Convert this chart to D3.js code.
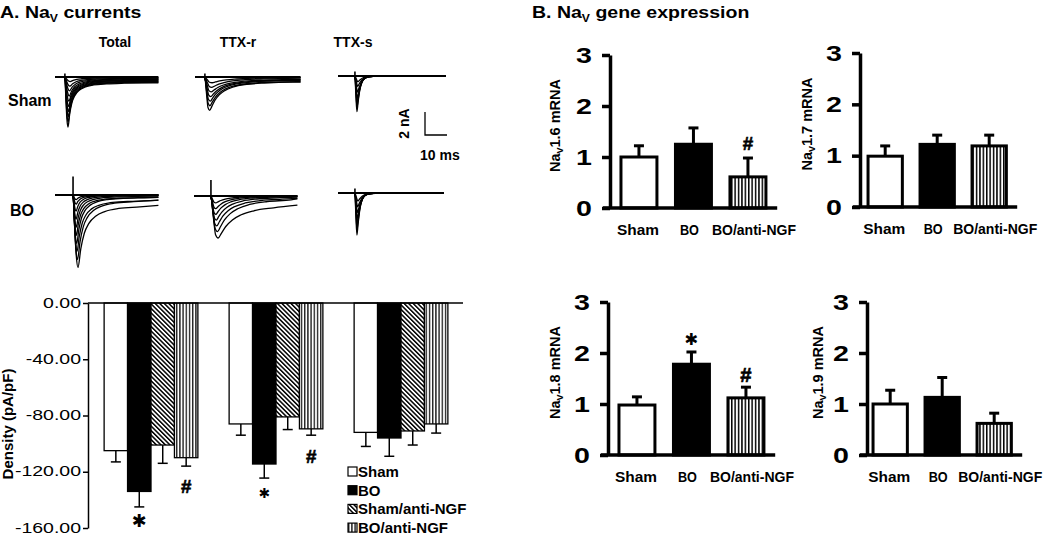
<!DOCTYPE html>
<html><head><meta charset="utf-8">
<script src="https://cdn.jsdelivr.net/npm/d3@7"></script>
<style>
html,body{margin:0;padding:0;background:#fff;}
svg{display:block;font-family:"Liberation Sans",Arial,sans-serif;}
</style></head>
<body>
<svg id="fig" width="1050" height="535"></svg>
<script>
// ---------- DATA ----------
// Panel A traces (nA): peak amplitudes, sustained end levels, slowing factor per sweep
const traceT       = [0, 0.4, 0.9, 1.4, 2.2, 3.2, 4.5, 6.5, 9, 13, 19, 27, 40];
const totalShape   = [0, -0.4, -0.85, -1, -0.7, -0.45, -0.29, -0.17, -0.1, -0.05, -0.025, -0.01, 0];
const ttxrShape    = [0, -0.25, -0.6, -0.9, -1, -0.85, -0.65, -0.45, -0.3, -0.17, -0.08, -0.03, 0];
const ttxsShape    = [0, -0.5, -1, -0.75, -0.4, -0.17, -0.06, -0.02, 0, 0, 0, 0, 0];
const sustainShape = [0, -0.3, -0.7, -1, -1, -1, -1, -1, -1, -1, -1, -1, -1];

const shamTotalPeaks = [4.35, 3.9, 3.45, 3.0, 2.55, 2.1, 1.65, 1.2, 0.8, 0.4];
const shamTotalEnds  = [0.5, 0.45, 0.4, 0.35, 0.3, 0.25, 0.2, 0.15, 0.1, 0.05];
const shamTotalSlow  = [1, 1.05, 1.1, 1.15, 1.2, 1.3, 1.4, 1.5, 1.6, 1.7];
const shamTtxrPeaks  = [2.9, 2.5, 2.1, 1.7, 1.3, 0.9, 0.5];
const shamTtxrEnds   = [0.45, 0.4, 0.3, 0.25, 0.2, 0.1, 0.05];
const shamTtxrSlow   = [1, 1.05, 1.1, 1.2, 1.3, 1.4, 1.5];
const shamTtxsPeaks  = [3.1, 2.7, 2.3, 1.9, 1.4, 0.9, 0.5];
const shamTtxsEnds   = [0, 0, 0, 0, 0, 0, 0];
const shamTtxsSlow   = [1, 1.05, 1.1, 1.2, 1.3, 1.4, 1.5];
const boTotalPeaks   = [6.3, 5.6, 4.9, 4.2, 3.5, 2.8, 2.1, 1.4, 0.8, 0.4];
const boTotalEnds    = [0.9, 0.45, 0.45, 0.2, 0.2, 0.1, 0.05, 0, 0, 0];
const boTotalSlow    = [1.6, 1.45, 1.3, 1.2, 1.1, 1.05, 1, 1, 1, 1];
const boTtxrPeaks    = [3.65, 3.1, 2.6, 2.1, 1.6, 1.1, 0.6];
const boTtxrEnds     = [0.8, 0.25, 0.2, 0.1, 0.05, 0, 0];
const boTtxrSlow     = [1.5, 1.35, 1.2, 1.1, 1, 1, 1];
const boTtxsPeaks    = [3.65, 3.2, 2.7, 2.2, 1.7, 1.2, 0.7];
const boTtxsEnds     = [0, 0, 0, 0, 0, 0, 0];
const boTtxsSlow     = [1, 1.05, 1.1, 1.2, 1.3, 1.4, 1.5];

// Panel A bar chart (pA/pF)
const densityGroups   = ["Total", "TTX-r", "TTX-s"];
const densitySeries   = ["Sham", "BO", "Sham/anti-NGF", "BO/anti-NGF"];
const shamDensity     = [-105, -86, -92];
const boDensity       = [-134, -114.5, -96];
const shamAntiDensity = [-101, -81, -91];
const boAntiDensity   = [-110, -89.5, -86];
const shamDensityErr  = [8, 8, 10];
const boDensityErr    = [11, 10, 13];
const shamAntiErr     = [13, 9, 10];
const boAntiErr       = [6, 4.5, 6.5];
const densityTicks    = [0, -40, -80, -120, -160];

// Panel B mRNA
const mrnaGroups = ["Sham", "BO", "BO/anti-NGF"];
const nav16 = [1.0, 1.25, 0.61];  const nav16Err = [0.22, 0.32, 0.37];
const nav17 = [0.99, 1.22, 1.19]; const nav17Err = [0.2, 0.18, 0.21];
const nav18 = [0.98, 1.78, 1.12]; const nav18Err = [0.16, 0.24, 0.21];
const nav19 = [1.0, 1.13, 0.62];  const nav19Err = [0.27, 0.39, 0.2];
const mrnaTicks = [0, 1, 2, 3];

// ---------- DRAW ----------
const svg = d3.select("#fig");
const defs = svg.append("defs");
function stripePattern(id, period, width, angle, color) {
  const p = defs.append("pattern").attr("id", id).attr("patternUnits", "userSpaceOnUse")
    .attr("width", period).attr("height", period)
    .attr("patternTransform", `rotate(${angle})`);
  p.append("rect").attr("width", period).attr("height", period).attr("fill", "#fff");
  p.append("rect").attr("x", 0).attr("width", width).attr("height", period).attr("fill", color);
}
stripePattern("diagA", 3.2, 1.5, -45, "#000");
stripePattern("vertA", 3.2, 1.4, 0, "#222");
stripePattern("vertB", 3.4, 1.5, 0, "#000");

function stretchText(sel, sx) {
  sel.each(function () {
    const t = d3.select(this);
    const x = +t.attr("x") || 0, y = +t.attr("y") || 0;
    t.attr("x", 0).attr("y", 0).attr("transform", `translate(${x},${y}) scale(${sx},1)`);
  });
}
// significance mark: glyph ink centred on (x, cy) with ink height h
const measureCtx = document.createElement("canvas").getContext("2d");
function mark(x, cy, ch, h) {
  const fam = ch === "*" ? "'DejaVu Sans'" : "'Liberation Sans', Arial";
  const glyph = ch === "*" ? "\u2731" : "#";
  measureCtx.font = `bold 100px ${fam}`;
  const m = measureCtx.measureText(glyph);
  const asc = m.actualBoundingBoxAscent, desc = m.actualBoundingBoxDescent;
  const fs = h * 100 / (asc + desc);
  const off = (asc - desc) / 2 * fs / 100;
  svg.append("text").attr("x", x).attr("y", cy + off).attr("text-anchor", "middle")
    .attr("font-size", fs.toFixed(1)).attr("font-weight", "bold").attr("font-family", fam)
    .attr("stroke", "#000").attr("stroke-width", ch === "#" ? 0.6 : 0).text(glyph);
}

// Titles
function title(x, y, pre, post) {
  const t = svg.append("text").attr("x", x).attr("y", y).attr("font-size", 16).attr("font-weight", "bold");
  t.append("tspan").text(pre);
  t.append("tspan").attr("font-size", 10).attr("dy", 4).text("V");
  t.append("tspan").attr("dy", -4).text(post);
  stretchText(t, 1.22);
}
title(0, 18, "A.  Na", " currents");
title(532, 18, "B. Na", " gene expression");

// ---------- Panel A traces ----------
const pxPerMs = 2.2, pxPerNa = 11.5;
const headers = [["Total", 115], ["TTX-r", 238], ["TTX-s", 353]];
svg.selectAll("text.hdr").data(headers).enter().append("text")
  .attr("x", d => d[1]).attr("y", 47).attr("text-anchor", "middle")
  .attr("font-size", 14).attr("font-weight", "bold").text(d => d[0]);
svg.append("text").attr("x", 8).attr("y", 106).attr("font-size", 16).attr("font-weight", "bold").text("Sham");
svg.append("text").attr("x", 10).attr("y", 216).attr("font-size", 16).attr("font-weight", "bold").text("BO");

function family(cfg) {
  const x = d3.scaleLinear().domain([0, cfg.dur]).range([cfg.x0, cfg.x0 + cfg.dur * pxPerMs]);
  const y = d3.scaleLinear().domain([0, -1]).range([cfg.base, cfg.base + pxPerNa]);
  const line = d3.line().x(d => x(d[0])).y(d => y(d[1])).curve(d3.curveMonotoneX);
  const g = svg.append("g");
  cfg.peaks.forEach((pk, i) => {
    const end = cfg.ends[i], s = cfg.slow[i];
    const pts = [[0, 0]];
    traceT.forEach((t, k) => {
      const tt = cfg.onset + t * s;
      if (tt < cfg.dur) pts.push([tt, (pk - end) * cfg.shape[k] + end * sustainShape[k]]);
    });
    pts.push([cfg.dur, -end]);
    g.append("path").attr("d", line(pts)).attr("fill", "none").attr("stroke", "#000")
      .attr("stroke-width", 1.3).attr("stroke-linejoin", "round");
  });
  g.append("line").attr("x1", x(0)).attr("x2", x(cfg.dur)).attr("y1", y(0)).attr("y2", y(0))
    .attr("stroke", "#000").attr("stroke-width", 2);
  g.append("line").attr("x1", x(cfg.onset)).attr("x2", x(cfg.onset))
    .attr("y1", y(cfg.art)).attr("y2", y(-0.3)).attr("stroke", "#000").attr("stroke-width", 1.6);
}
family({x0: 55, base: 77, onset: 4.5, dur: 47, peaks: shamTotalPeaks, ends: shamTotalEnds, slow: shamTotalSlow, shape: totalShape, art: 0.3});
family({x0: 195, base: 77, onset: 4.5, dur: 48, peaks: shamTtxrPeaks, ends: shamTtxrEnds, slow: shamTtxrSlow, shape: ttxrShape, art: 0.3});
family({x0: 338, base: 76, onset: 7.7, dur: 49, peaks: shamTtxsPeaks, ends: shamTtxsEnds, slow: shamTtxsSlow, shape: ttxsShape, art: 0.4});
family({x0: 55, base: 195, onset: 8.2, dur: 47, peaks: boTotalPeaks, ends: boTotalEnds, slow: boTotalSlow, shape: totalShape, art: 1.6});
family({x0: 194, base: 196, onset: 7.7, dur: 47, peaks: boTtxrPeaks, ends: boTtxrEnds, slow: boTtxrSlow, shape: ttxrShape, art: 1.4});
family({x0: 338, base: 193, onset: 7.7, dur: 48, peaks: boTtxsPeaks, ends: boTtxsEnds, slow: boTtxsSlow, shape: ttxsShape, art: 0.4});

// scale bar: 2 nA / 10 ms
const sbX = 425, sbY = 135;
svg.append("path").attr("d", `M${sbX},${sbY - 2 * pxPerNa}V${sbY}H${sbX + 10 * pxPerMs}`)
  .attr("fill", "none").attr("stroke", "#000").attr("stroke-width", 1.3);
svg.append("text").attr("transform", `translate(409,${sbY - pxPerNa}) rotate(-90)`)
  .attr("text-anchor", "middle").attr("font-size", 14).attr("font-weight", "bold").text("2 nA");
svg.append("text").attr("x", 420).attr("y", 160).attr("font-size", 14).attr("font-weight", "bold").text("10 ms");

// ---------- Panel A bar chart ----------
const yA = d3.scaleLinear().domain([-160, 0]).range([528, 303]);
const xA = d3.scaleBand().domain(densityGroups).range([88.5, 463.5]).paddingInner(0.25).paddingOuter(0.125);
const xAi = d3.scaleBand().domain(densitySeries).range([0, xA.bandwidth()]);
const meansA = [shamDensity, boDensity, shamAntiDensity, boAntiDensity];
const errsA = [shamDensityErr, boDensityErr, shamAntiErr, boAntiErr];
const fillsA = ["#fff", "#000", "url(#diagA)", "url(#vertA)"];
const gA = svg.append("g");
densitySeries.forEach((s, si) => {
  densityGroups.forEach((grp, gi) => {
    const x0 = xA(grp) + xAi(s), w = xAi.bandwidth(), v = meansA[si][gi], e = errsA[si][gi];
    const cx = x0 + w / 2;
    gA.append("line").attr("x1", cx).attr("x2", cx).attr("y1", yA(v)).attr("y2", yA(v - e))
      .attr("stroke", "#000").attr("stroke-width", 1.5);
    gA.append("line").attr("x1", cx - 5).attr("x2", cx + 5).attr("y1", yA(v - e)).attr("y2", yA(v - e))
      .attr("stroke", "#000").attr("stroke-width", 1.5);
    gA.append("rect").attr("x", x0).attr("y", yA(0)).attr("width", w).attr("height", yA(v) - yA(0))
      .attr("fill", fillsA[si]).attr("stroke", "#000").attr("stroke-width", 1.3);
  });
});
const axA = svg.append("g").attr("transform", "translate(88,0)")
  .call(d3.axisLeft(yA).tickValues(densityTicks).tickFormat(d => d.toFixed(2)).tickSize(5).tickSizeOuter(0).tickPadding(2));
axA.selectAll("path,line").attr("stroke", "#000").attr("stroke-width", 1.5);
axA.selectAll("text").attr("font-size", 15).attr("fill", "#000").attr("dy", "0.27em")
  .attr("font-family", "Liberation Sans, Arial");
stretchText(axA.selectAll("text"), 1.3);
svg.append("line").attr("x1", 88).attr("x2", 463).attr("y1", yA(0)).attr("y2", yA(0))
  .attr("stroke", "#000").attr("stroke-width", 1.5);
svg.append("text").attr("transform", "translate(13,424) rotate(-90)").attr("text-anchor", "middle")
  .attr("font-size", 15).attr("font-weight", "bold").text("Density (pA/pF)");

// significance marks: [mark, group, series, centre value (pA/pF), ink height px]
const marksA = [["*", "Total", "BO", -155, 13], ["#", "Total", "BO/anti-NGF", -130.8, 13],
                ["*", "TTX-r", "BO", -135.1, 10], ["#", "TTX-r", "BO/anti-NGF", -109.5, 13]];
marksA.forEach(m => {
  mark(xA(m[1]) + xAi(m[2]) + xAi.bandwidth() / 2, yA(m[3]), m[0], m[4]);
});

// legend
const leg = svg.append("g").attr("transform", "translate(348,467)");
densitySeries.forEach((s, i) => {
  const r = leg.append("g").attr("transform", `translate(0,${i * 18.7})`);
  r.append("rect").attr("width", 9).attr("height", 9).attr("fill", fillsA[i]).attr("stroke", "#000").attr("stroke-width", 1.2);
  r.append("text").attr("x", 10).attr("y", 10).attr("font-size", 15).attr("font-weight", "bold").text(s);
});

// ---------- Panel B ----------
const labelShift = [-1, -4, 6];
const labelWidth = [42, 19, 84];
function mrnaPanel(cfg) {
  const y = d3.scaleLinear().domain([0, 3]).range([cfg.y0, cfg.y3]);
  const x = d3.scaleBand().domain(mrnaGroups).range(cfg.xr).paddingInner(0.34).paddingOuter(0.17);
  const g = svg.append("g");
  const fills = ["#fff", "#000", "url(#vertB)"];
  mrnaGroups.forEach((c, i) => {
    const v = cfg.vals[i], e = cfg.errs[i], cx = x(c) + x.bandwidth() / 2;
    g.append("line").attr("x1", cx).attr("x2", cx).attr("y1", y(v)).attr("y2", y(v + e))
      .attr("stroke", "#000").attr("stroke-width", 3);
    g.append("line").attr("x1", cx - 5).attr("x2", cx + 5).attr("y1", y(v + e)).attr("y2", y(v + e))
      .attr("stroke", "#000").attr("stroke-width", 3);
    g.append("rect").attr("x", x(c)).attr("y", y(v)).attr("width", x.bandwidth()).attr("height", y(0) - y(v))
      .attr("fill", fills[i]).attr("stroke", "#000").attr("stroke-width", 3);
    g.append("text").attr("x", cx + labelShift[i]).attr("y", y(0) + 27).attr("text-anchor", "middle")
      .attr("font-size", 14).attr("font-weight", "bold")
      .attr("textLength", labelWidth[i]).attr("lengthAdjust", "spacingAndGlyphs").text(c);
    if (cfg.marks[i]) {
      const m = cfg.marks[i];
      mark(cx, y(m[1]), m[0], m[2]);
    }
  });
  const ax = g.append("g").attr("transform", `translate(${cfg.ax},0)`)
    .call(d3.axisLeft(y).tickValues(mrnaTicks).tickSize(8).tickSizeOuter(0).tickPadding(10).tickFormat(d3.format("d")));
  ax.select(".domain").attr("stroke", "#000").attr("stroke-width", 3.5);
  ax.selectAll(".tick line").attr("stroke", "#000").attr("stroke-width", 3.5);
  ax.selectAll("text").attr("font-size", 22).attr("font-weight", "bold").attr("fill", "#000")
    .attr("font-family", "Liberation Sans, Arial");
  stretchText(ax.selectAll("text"), 1.3);
  g.append("line").attr("x1", cfg.ax - 7).attr("x2", cfg.xr[1] + 2).attr("y1", y(0)).attr("y2", y(0))
    .attr("stroke", "#000").attr("stroke-width", 3.5);
  const lab = g.append("text").attr("transform", `translate(${cfg.ax - cfg.labOff},${(y(0) + y(3)) / 2 - 6}) rotate(-90)`)
    .attr("text-anchor", "middle").attr("font-size", 14.5).attr("font-weight", "bold");
  lab.append("tspan").text("Na");
  lab.append("tspan").attr("font-size", 9).attr("dy", 3).text("V");
  lab.append("tspan").attr("dy", -3).text(cfg.name + " mRNA");
}
// marks: [symbol, centre value (mRNA), ink height px]
mrnaPanel({name: "1.6", vals: nav16, errs: nav16Err, ax: 610, y0: 208, y3: 55, xr: [611.7, 775.2], labOff: 50, marks: [null, null, ["#", 1.265, 13]]});
mrnaPanel({name: "1.7", vals: nav17, errs: nav17Err, ax: 860, y0: 207, y3: 53, xr: [859.2, 1015.2], labOff: 48, marks: [null, null, null]});
mrnaPanel({name: "1.8", vals: nav18, errs: nav18Err, ax: 608, y0: 455, y3: 302, xr: [609.7, 773.2], labOff: 48, marks: [null, ["*", 2.27, 12], ["#", 1.57, 14]]});
mrnaPanel({name: "1.9", vals: nav19, errs: nav19Err, ax: 867, y0: 455, y3: 302, xr: [864.2, 1020.2], labOff: 44, marks: [null, null, null]});
</script>
</body></html>
